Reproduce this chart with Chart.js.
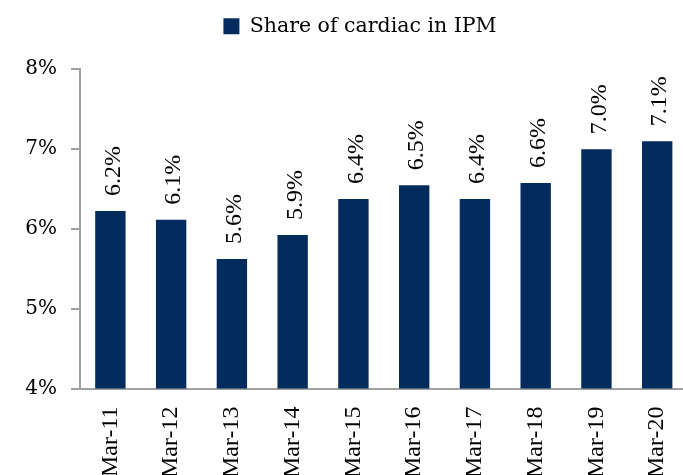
<!DOCTYPE html>
<html>
<head>
<meta charset="utf-8">
<script src="https://cdn.jsdelivr.net/npm/chart.js@4.4.0/dist/chart.umd.min.js"></script>
<style>
  html, body { margin: 0; padding: 0; overflow: hidden; background: #fff; }
  #wrap { position: absolute; left: 0; top: 0; width: 683px; height: 475px; overflow: hidden; }
</style>
</head>
<body>
<div id="wrap"><canvas id="barChart" width="696" height="488"></canvas></div>
<script>
// share of cardiac in IPM, % by fiscal year end
let years = ['Mar-11', 'Mar-12', 'Mar-13', 'Mar-14', 'Mar-15', 'Mar-16', 'Mar-17', 'Mar-18', 'Mar-19', 'Mar-20'];
let share = [6.22, 6.11, 5.62, 5.92, 6.37, 6.54, 6.37, 6.57, 6.99, 7.09];
let yTicks = [4, 5, 6, 7, 8];

let navy = '#032b5e';
let axisGrey = '#a0a0a0';

// value labels written upright above each bar
let barLabels = {
    id: 'barLabels',
    afterDatasetsDraw(chart) {
        let ctx = chart.ctx;
        chart.getDatasetMeta(0).data.forEach(function (bar, i) {
            ctx.save();
            ctx.translate(bar.x + 3, bar.y - 15);
            ctx.rotate(-Math.PI / 2);
            ctx.font = '24px "Liberation Serif"';
            ctx.fillStyle = '#000';
            ctx.textAlign = 'left';
            ctx.textBaseline = 'middle';
            ctx.fillText(share[i].toFixed(1) + '%', 0, 0);
            ctx.restore();
        });
    }
};

// extra room between the legend and the plot, legend nudged right
let legendGap = {
    id: 'legendGap',
    beforeInit(chart) {
        let fit = chart.legend.fit;
        chart.legend.fit = function () {
            fit.bind(chart.legend)();
            this.height += 22;
        };
    },
    afterLayout(chart) {
        chart.legend.left += 12;
        chart.legend.right += 12;
    }
};

let ctx = document.getElementById('barChart').getContext('2d');
let barChart = new Chart(ctx, {
    type: 'bar',
    data: {
        labels: years,
        datasets: [{
            label: 'Share of cardiac in IPM',
            data: share,
            backgroundColor: navy,
            barPercentage: 0.5,
            categoryPercentage: 1.0
        }]
    },
    options: {
        responsive: false,
        animation: false,
        layout: { padding: { top: 4, right: 0, left: 0, bottom: 0 } },
        plugins: {
            tooltip: { enabled: false },
            legend: {
                position: 'top',
                labels: {
                    boxWidth: 16,
                    boxHeight: 16,
                    color: '#000',
                    padding: 12,
                    font: { family: 'DejaVu Serif', size: 20.5 }
                }
            }
        },
        scales: {
            x: {
                border: { display: true, color: axisGrey, width: 2 },
                grid: { display: false },
                ticks: {
                    color: '#000',
                    minRotation: 90,
                    maxRotation: 90,
                    padding: 10,
                    font: { family: 'Liberation Serif', size: 24 }
                }
            },
            y: {
                min: 4,
                max: 8,
                afterFit: function (scale) { scale.width = 80; },
                afterBuildTicks: function (scale) {
                    scale.ticks = yTicks.map(function (v) { return { value: v }; });
                },
                border: { display: true, color: axisGrey, width: 2 },
                grid: {
                    drawOnChartArea: false,
                    drawTicks: true,
                    tickLength: 9,
                    color: axisGrey,
                    lineWidth: 2
                },
                ticks: {
                    color: '#000',
                    padding: 14,
                    font: { family: 'DejaVu Serif', size: 20 },
                    callback: function (v) { return v + '%'; }
                }
            }
        }
    },
    plugins: [barLabels, legendGap]
});
</script>
</body>
</html>
